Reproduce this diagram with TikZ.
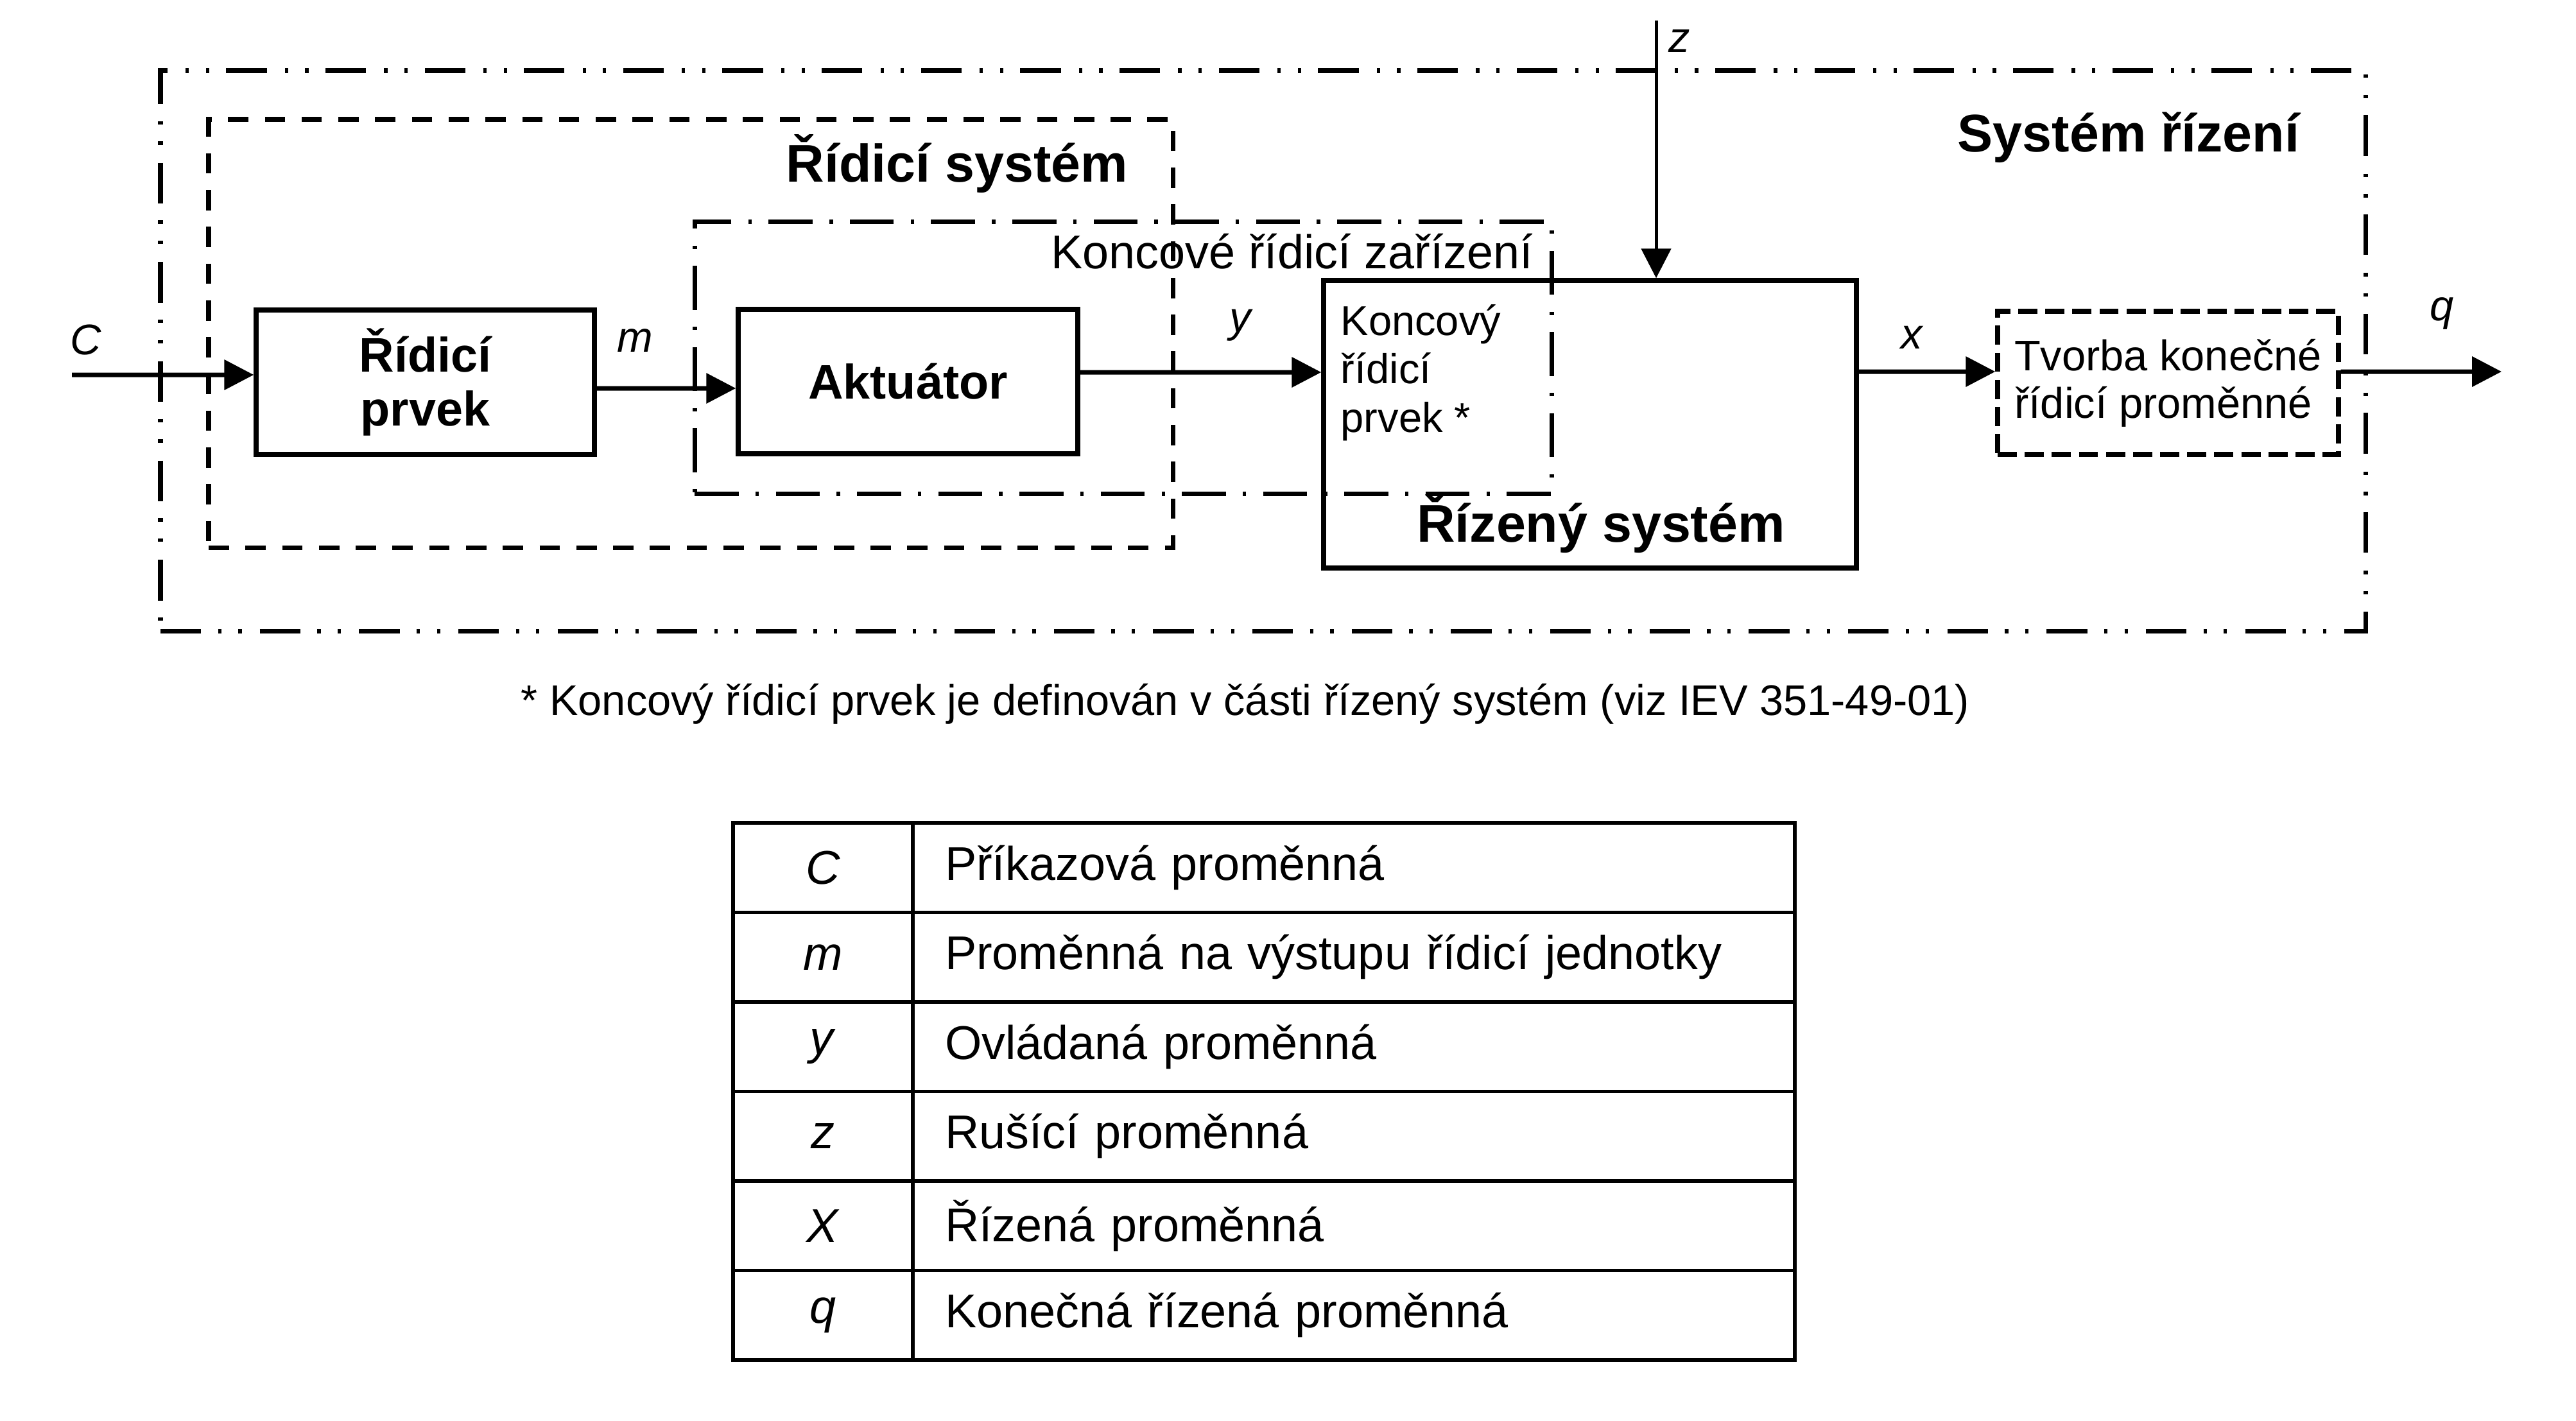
\documentclass[tikz,border=0pt]{standalone}
\usepackage{fontspec}
\setmainfont{Liberation Sans}
\usepackage{tikz}
\usetikzlibrary{positioning}
\usetikzlibrary{arrows.meta}
\tikzset{blok/.style={draw, line width=2.1pt, align=center, inner sep=0pt,
font=\fontsize{21.5}{24}\selectfont\bfseries},
ramec/.style={draw, line width=2pt, inner sep=0pt},
sipka/.style={line width=2pt, -{Triangle[length=0.46cm,width=0.46cm]}},
znacka/.style={inner sep=0pt, font=\fontsize{19}{21}\selectfont\itshape},
nadpis/.style={inner sep=0pt, font=\fontsize{23.5}{26}\selectfont\bfseries},
bunka/.style={draw, line width=1.5pt, outer sep=0pt, minimum height=1.395cm,
font=\fontsize{21}{24}\selectfont}}

\begin{document}
\begin{tikzpicture}[sysriz/.style={ramec, dash pattern=on 18pt off 7.5pt on 1.5pt off 7.5pt on 1.5pt off 8pt},
ridsys/.style={ramec, dash pattern=on 9pt off 7.3pt},
konzar/.style={ramec, dash pattern=on 19.5pt off 7.5pt on 1.5pt off 7.5pt}]
	\useasboundingbox (0,0) rectangle (40.13,-22.13);
	\node[sysriz, minimum width=34.35cm, minimum height=8.73cm] (fsysriz) at (19.675,-5.465) {};
	\node[ridsys, minimum width=15.02cm, minimum height=6.67cm] (fridsys) at (10.76,-5.195) {};
	\node[konzar, minimum width=13.35cm, minimum height=4.24cm] (fkonzar) at (17.495,-5.57) {};
	\node[blok, minimum width=5.27cm, minimum height=2.25cm] (prvek) at (6.625,-5.955) {Řídicí\\prvek};
	\node[blok, minimum width=5.29cm, minimum height=2.25cm] (aktuator) at (14.145,-5.945) {Aktuátor};
	\node[blok, minimum width=8.30cm, minimum height=4.48cm] (rizeny) at (24.77,-6.61) {};
	\node[blok, minimum width=5.31cm, minimum height=2.23cm, dash pattern=on 8.5pt off 3.5pt,
		align=left, font=\fontsize{19}{21}\selectfont] (tvorba) at (33.775,-5.965) {Tvorba konečné\\řídicí proměnné};
	\node[nadpis] (tridsys) at (14.91,-2.55) {Řídicí systém};
	\node[nadpis] (tsysriz) at (33.16,-2.14) {Systém řízení};
	\node[nadpis] (triz) at (24.94,-8.16) {Řízený systém};
	\node[inner sep=0pt, font=\fontsize{21}{24}\selectfont] (tkonzar) at (20.13,-3.92) {Koncové řídicí zařízení};
	\node[inner sep=0pt, align=left, anchor=north west, font=\fontsize{18.5}{21.4}\selectfont] (tkprvek) at (20.88,-4.74) {Koncový\\řídicí\\prvek *};
	\coordinate (cin) at (1.12,-5.84);
	\coordinate (zin) at (25.80,-0.32);
	\coordinate (qout) at (38.97,-5.79);
	\draw[sipka] (cin) -- ([yshift=1.15mm]prvek.west);
	\draw[sipka] ([yshift=-0.95mm]prvek.east) -- ([yshift=-1.05mm]aktuator.west);
	\draw[sipka] ([yshift=1.45mm]aktuator.east) -- ([yshift=8.1mm]rizeny.west);
	\draw[sipka] ([yshift=8.2mm]rizeny.east) -- ([yshift=1.75mm]tvorba.west);
	\draw[sipka] ([yshift=1.75mm]tvorba.east) -- (qout);
	\draw[sipka, line width=1.4pt] (zin) -- (zin |- rizeny.north);
	\node[znacka] (lc) at (1.34,-5.29) {C};
	\node[znacka] (lm) at (9.89,-5.31) {m};
	\node[znacka] (ly) at (19.32,-5.07) {y};
	\node[znacka] (lz) at (26.16,-0.64) {z};
	\node[znacka] (lx) at (29.78,-5.26) {x};
	\node[znacka] (lq) at (38.04,-4.88) {q};
	\node[inner sep=0pt, font=\fontsize{19}{21}\selectfont] (pozn) at (19.40,-10.97) {* Koncový řídicí prvek je definován v části řízený systém (viz IEV 351-49-01)};
	\foreach \sym/\popis [count=\i] in {C/Příkazová proměnná, m/Proměnná na výstupu řídicí jednotky,
		y/Ovládaná proměnná, z/Rušící proměnná, X/Řízená proměnná, q/Konečná řízená proměnná}
	{
		\node[bunka, minimum width=2.80cm] (s\i) at (12.82,{-12.82-1.395*(\i-0.5)}) {\textit{\sym}};
		\node[bunka, anchor=west, text width=12.74cm, inner xsep=0.5cm, align=left] (p\i) at (s\i.east) {\popis};
	}
\end{tikzpicture}
\end{document}
